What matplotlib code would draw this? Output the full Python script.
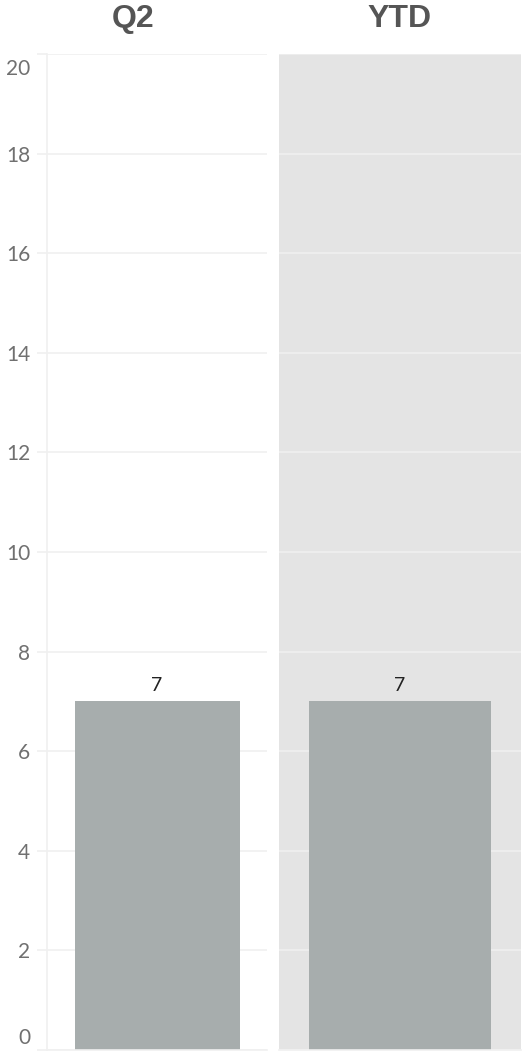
import matplotlib
matplotlib.use("Agg")
import matplotlib.pyplot as plt
import matplotlib.transforms as mtransforms
import numpy as np

# data
panels = ["Q2", "YTD"]
values = [7, 7]
yticks = [0, 2, 4, 6, 8, 10, 12, 14, 16, 18, 20]

bar_color = "#a7adad"
grid_color = "#f0f0f0"

fig = plt.figure(figsize=(5.22, 10.53), dpi=100)
fig.patch.set_facecolor("white")

# axes placed in figure fractions
ax1 = fig.add_axes([47 / 522, 3 / 1053, 220 / 522, 996 / 1053])
ax2 = fig.add_axes([279 / 522, 3 / 1053, 242 / 522, 996 / 1053])

for i, (ax, name, val) in enumerate(zip([ax1, ax2], panels, values)):
    ax.bar([0], [val], width=0.75, color=bar_color, zorder=2)
    ax.set_xlim(-0.5, 0.5)
    ax.set_ylim(0, 20)
    ax.set_yticks(yticks)
    ax.set_xticks([])
    ax.text(0, val, str(val), ha="center", va="bottom",
            fontsize=14, color="#222222", family="Lato",
            transform=ax.transData + mtransforms.ScaledTranslation(0, 7 / 100, fig.dpi_scale_trans))
    for s in ["top", "right", "left"]:
        ax.spines[s].set_visible(False)
    ax.spines["bottom"].set_color(grid_color)
    ax.spines["bottom"].set_linewidth(1.2)
    if i == 0:
        ax.set_facecolor("white")
        ax.grid(axis="y", color=grid_color, linewidth=1.2, zorder=0)
        ax.spines["left"].set_visible(True)
        ax.spines["left"].set_color(grid_color)
        ax.spines["left"].set_linewidth(1.2)
        ax.tick_params(axis="y", length=7, color=grid_color, width=1.2,
                       labelsize=15, labelcolor="#707070", pad=5)
        labels = ax.get_yticklabels()
        for lab in labels:
            lab.set_family("Lato")
        # end labels pushed inside the plot area
        labels[0].set_verticalalignment("bottom")
        labels[0].set_transform(labels[0].get_transform() +
                                mtransforms.ScaledTranslation(0, 2 / 100, fig.dpi_scale_trans))
        labels[-1].set_verticalalignment("top")
        labels[-1].set_transform(labels[-1].get_transform() +
                                 mtransforms.ScaledTranslation(0, -5 / 100, fig.dpi_scale_trans))
    else:
        ax.set_facecolor("#e4e4e4")
        ax.grid(axis="y", color="#efefef", linewidth=1.2, zorder=0)
        ax.tick_params(axis="y", length=0, labelleft=False)
    ax.set_axisbelow(True)

# panel titles
fig.text(133 / 522, 1 - 19 / 1053, panels[0], ha="center", va="center",
         fontsize=23, fontweight="bold", color="#555555", family="Liberation Sans")
fig.text(400 / 522, 1 - 19 / 1053, panels[1], ha="center", va="center",
         fontsize=23, fontweight="bold", color="#555555", family="Liberation Sans")

fig.savefig("out.png", dpi=100)
